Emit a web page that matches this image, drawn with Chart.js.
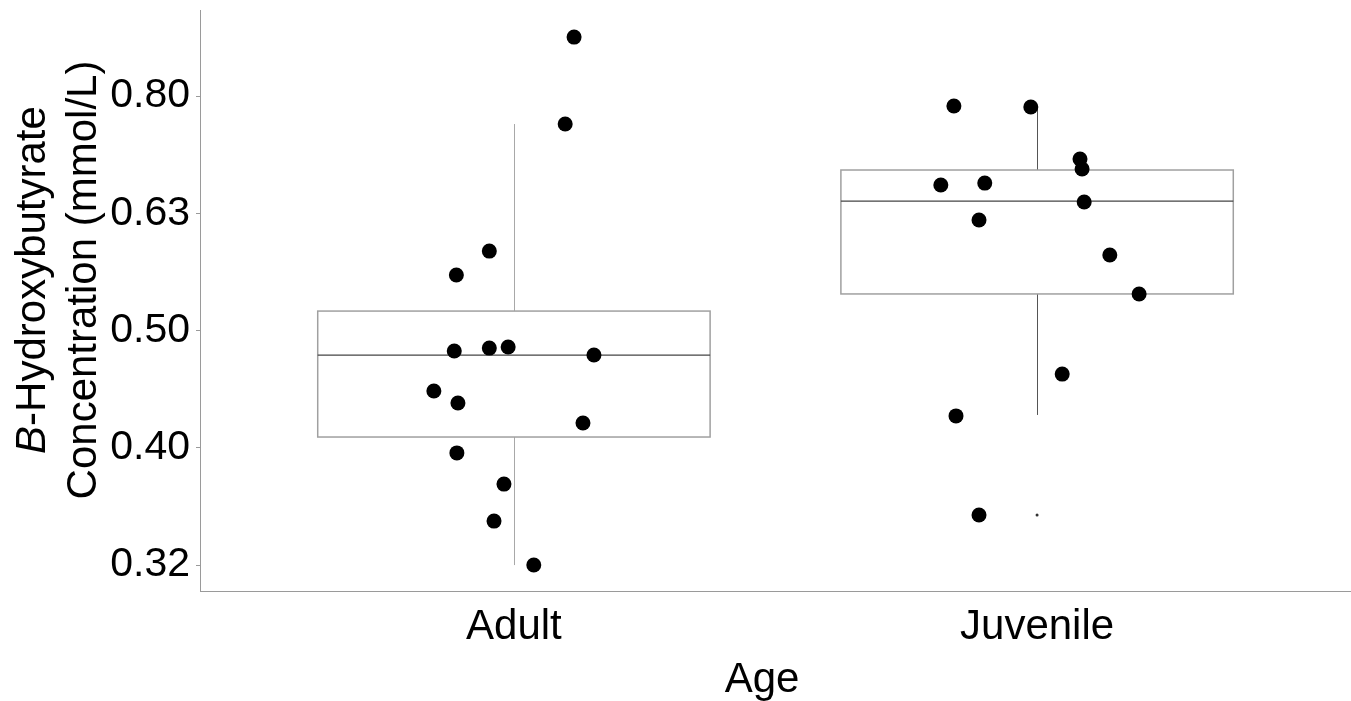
<!DOCTYPE html>
<html>
<head>
<meta charset="utf-8">
<script src="https://cdn.jsdelivr.net/npm/chart.js@4.4.0/dist/chart.umd.min.js"></script>
<style>
  html, body { margin: 0; padding: 0; background: #fff; }
  #wrap { width: 1351px; height: 701px; }
</style>
</head>
<body>
<div id="wrap"><canvas id="chart"></canvas></div>
<script>
var categories = ["Adult", "Juvenile"];
var tickValues = [0.3162, 0.3981, 0.5012, 0.6310, 0.7943];
var tickLabels = ["0.32", "0.40", "0.50", "0.63", "0.80"];

// jittered points, x is the category position (1, 2) plus the jitter
var adultX = [1.115, 1.098, 0.953, 0.890, 0.989, 0.953, 0.886, 1.153, 0.847, 0.893, 1.132, 0.891, 0.981, 0.962, 1.038];
var adultY = [0.8918, 0.7518, 0.5858, 0.5589, 0.4852, 0.4842, 0.4814, 0.4776, 0.4450, 0.4347, 0.4180, 0.3941, 0.3707, 0.3447, 0.3162];
var juvenileX = [1.841, 1.988, 2.082, 2.086, 1.816, 1.900, 2.090, 1.889, 2.139, 2.195, 2.048, 1.845, 1.889];
var juvenileY = [0.7788, 0.7773, 0.7019, 0.6882, 0.6669, 0.6695, 0.6450, 0.6227, 0.5813, 0.5385, 0.4601, 0.4238, 0.3489];

// box plot stats per category
var whiskerLow = [0.3162, 0.4246];
var q1 = [0.4066, 0.5385];
var median = [0.4776, 0.6463];
var q3 = [0.5207, 0.6869];
var whiskerHigh = [0.7518, 0.7773];
var outlierX = [2];
var outlierY = [0.3489];

function toPoints(xs, ys) {
    return xs.map(function (x, i) { return { x: x, y: ys[i] }; });
}

var FONT = "'Liberation Sans', Arial, sans-serif";

// draws boxes, whiskers and medians under the points
var boxPlugin = {
    id: "boxes",
    beforeDatasetsDraw: function (chart) {
        var ctx = chart.ctx, xs = chart.scales.x, ys = chart.scales.y;
        var whiskerColors = ["#a8a8a8", "#555555"];
        ctx.save();
        for (var i = 0; i < categories.length; i++) {
            var c = i + 1;
            var mid = Math.round(xs.getPixelForValue(c)) + 0.5;
            var left = xs.getPixelForValue(c - 0.375);
            var right = xs.getPixelForValue(c + 0.375);
            var yHi = ys.getPixelForValue(whiskerHigh[i]);
            var yQ3 = ys.getPixelForValue(q3[i]);
            var yMed = ys.getPixelForValue(median[i]);
            var yQ1 = ys.getPixelForValue(q1[i]);
            var yLo = ys.getPixelForValue(whiskerLow[i]);

            ctx.strokeStyle = whiskerColors[i];
            ctx.lineWidth = 1;
            ctx.beginPath();
            ctx.moveTo(mid, yHi); ctx.lineTo(mid, yQ3);
            ctx.moveTo(mid, yQ1); ctx.lineTo(mid, yLo);
            ctx.stroke();

            ctx.strokeStyle = "#a0a0a0";
            ctx.lineWidth = 1.5;
            ctx.strokeRect(left, yQ3, right - left, yQ1 - yQ3);

            ctx.strokeStyle = "#444444";
            ctx.lineWidth = 1.2;
            ctx.beginPath();
            ctx.moveTo(left, yMed); ctx.lineTo(right, yMed);
            ctx.stroke();
        }
        ctx.restore();
    }
};

// axis titles: two-line y title with italic B, and the x title
var titlePlugin = {
    id: "axisTitles",
    afterDraw: function (chart) {
        var ctx = chart.ctx;
        var cy = 280;
        ctx.save();
        ctx.fillStyle = "#000";
        ctx.textBaseline = "alphabetic";

        ctx.save();
        ctx.translate(45, cy);
        ctx.rotate(-Math.PI / 2);
        ctx.font = "italic 42px " + FONT;
        var wB = ctx.measureText("B").width;
        ctx.font = "42px " + FONT;
        var wRest = ctx.measureText("-Hydroxybutyrate").width;
        var start = -(wB + wRest) / 2;
        ctx.textAlign = "left";
        ctx.font = "italic 42px " + FONT;
        ctx.fillText("B", start, 0);
        ctx.font = "42px " + FONT;
        ctx.fillText("-Hydroxybutyrate", start + wB, 0);
        ctx.restore();

        ctx.save();
        ctx.translate(96, cy);
        ctx.rotate(-Math.PI / 2);
        ctx.textAlign = "center";
        ctx.font = "42px " + FONT;
        ctx.fillText("Concentration (mmol/L)", 0, 0);
        ctx.restore();

        ctx.textAlign = "center";
        ctx.font = "42px " + FONT;
        ctx.fillText("Age", 762, 692);

        ctx.restore();
    }
};

var ctx = document.getElementById("chart").getContext("2d");
var chart = new Chart(ctx, {
    type: "scatter",
    data: {
        datasets: [{
            label: categories[0],
            data: toPoints(adultX, adultY),
            backgroundColor: "#000",
            borderWidth: 0,
            pointRadius: 7.5
        }, {
            label: categories[1],
            data: toPoints(juvenileX, juvenileY),
            backgroundColor: "#000",
            borderWidth: 0,
            pointRadius: 7.5
        }, {
            label: "outliers",
            data: toPoints(outlierX, outlierY),
            backgroundColor: "#333",
            borderWidth: 0,
            pointRadius: 1.5
        }]
    },
    options: {
        responsive: true,
        maintainAspectRatio: false,
        animation: false,
        layout: { autoPadding: false, padding: { top: 10, right: 0, bottom: 0, left: 0 } },
        plugins: {
            legend: { display: false },
            tooltip: { enabled: false }
        },
        scales: {
            x: {
                type: "linear",
                min: 0.4,
                max: 2.6,
                afterBuildTicks: function (scale) {
                    scale.ticks = [{ value: 1 }, { value: 2 }];
                },
                afterFit: function (scale) {
                    scale.height = 110;
                    scale.paddingLeft = 0;
                    scale.paddingRight = 0;
                },
                grid: { display: false },
                border: { display: true, color: "#9a9a9a", width: 1 },
                ticks: {
                    color: "#000",
                    font: { family: FONT, size: 42 },
                    padding: 3,
                    maxRotation: 0,
                    autoSkip: false,
                    callback: function (value) { return categories[value - 1]; }
                },
                title: { display: false }
            },
            y: {
                type: "logarithmic",
                min: 0.3005,
                max: 0.9405,
                afterBuildTicks: function (scale) {
                    scale.ticks = tickValues.map(function (v) { return { value: v }; });
                },
                afterFit: function (scale) {
                    scale.width = 200;
                    scale.paddingTop = 0;
                    scale.paddingBottom = 0;
                },
                grid: { display: true, drawOnChartArea: false, drawTicks: true, tickLength: 4, color: "#9a9a9a" },
                border: { display: true, color: "#9a9a9a", width: 1 },
                ticks: {
                    color: "#000",
                    font: { family: FONT, size: 41 },
                    padding: 6,
                    autoSkip: false,
                    callback: function (value, index) { return tickLabels[index]; }
                }
            }
        }
    },
    plugins: [boxPlugin, titlePlugin]
});
</script>
</body>
</html>
